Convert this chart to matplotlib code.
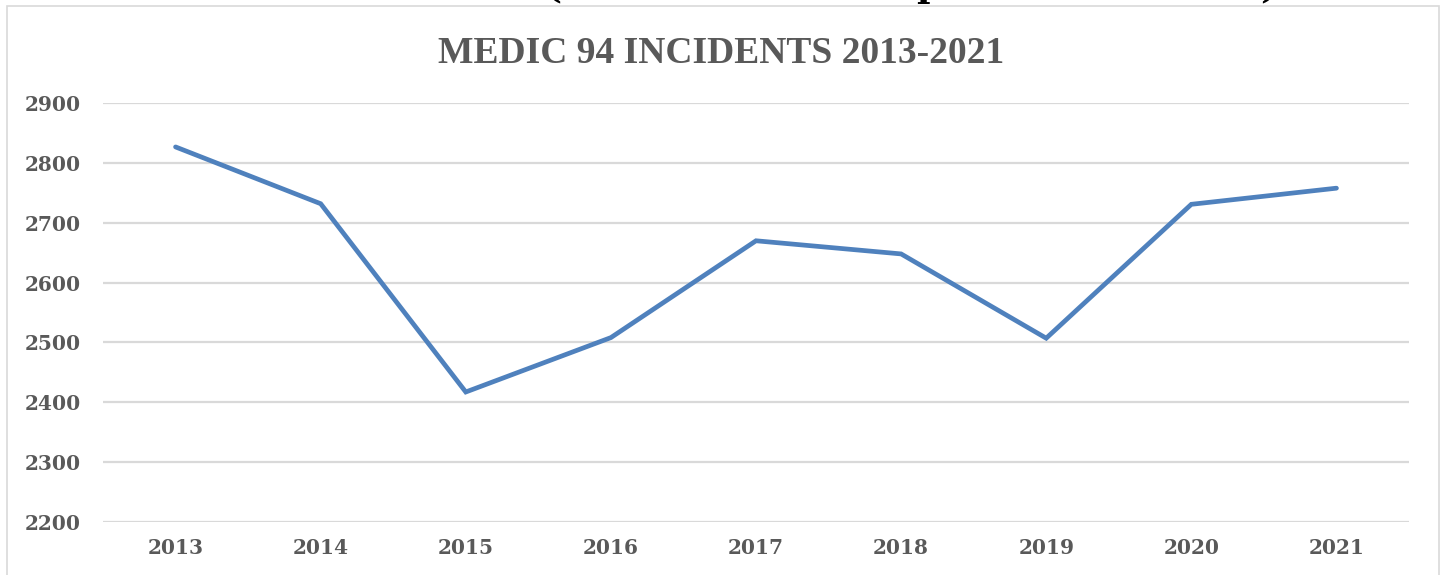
import numpy as np
import matplotlib
matplotlib.use("Agg")
import matplotlib.pyplot as plt
from matplotlib.patches import Rectangle

years = ["2013", "2014", "2015", "2016", "2017", "2018", "2019", "2020", "2021"]
incidents = [2827, 2732, 2417, 2508, 2670, 2648, 2507, 2731, 2758]
yticks = [2200, 2300, 2400, 2500, 2600, 2700, 2800, 2900]
title = "MEDIC 94 INCIDENTS 2013-2021"

W, H = 1443, 575
txtcol = "#595959"
gridcol = "#D9D9D9"
linecol = "#4F81BD"

fig = plt.figure(figsize=(W/100, H/100), dpi=100)

# outer chart border (bottom runs off the picture)
fig.patches.append(Rectangle((7/W, -0.05), (1439-7)/W, 1-6/H+0.05,
                             transform=fig.transFigure, fill=False,
                             edgecolor=gridcol, linewidth=1.2))

# bits of the heading that got cut off above the chart
for xp, ch in [(553, "("), (929, "p"), (1269, ")")]:
    fig.text(xp/W, 1+3/H, ch, ha="center", va="baseline", fontsize=26,
             fontweight="bold", family="DejaVu Serif", color="black")

ax = fig.add_axes([103/W, 53.3/H, (1409-103)/W, (521.7-103.3)/H])
x = np.arange(len(years))
ax.plot(x, incidents, color=linecol, linewidth=3.4, solid_capstyle="round",
        solid_joinstyle="miter", zorder=3)

ax.set_xlim(-0.5, len(years)-0.5)
ax.set_ylim(2200, 2900)
ax.set_yticks(yticks)
ax.set_xticks(x)
ax.set_xticklabels(years)
ax.grid(axis="y", color=gridcol, linewidth=1.6)
ax.set_axisbelow(True)
for s in ax.spines.values():
    s.set_visible(False)
ax.tick_params(length=0)
ax.tick_params(axis="y", pad=16)
ax.tick_params(axis="x", pad=12)
for lab in ax.get_xticklabels() + ax.get_yticklabels():
    lab.set_family("DejaVu Serif")
    lab.set_fontweight("bold")
    lab.set_fontsize(14.5)
    lab.set_color(txtcol)

fig.text(0.5, 1-63/H, title, ha="center", va="baseline", fontsize=27,
         fontweight="bold", family="Liberation Serif", color=txtcol)

fig.savefig("out.png", dpi=100, facecolor="white")
